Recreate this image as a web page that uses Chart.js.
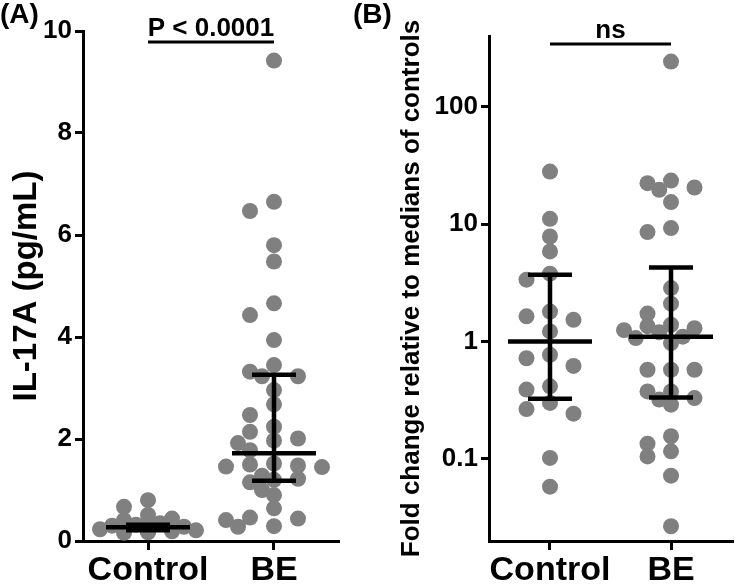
<!DOCTYPE html>
<html>
<head>
<meta charset="utf-8">
<script src="https://cdn.jsdelivr.net/npm/chart.js@4.4.1/dist/chart.umd.min.js"></script>
<style>
  html, body { margin: 0; padding: 0; background: #fff; }
  #wrap { position: relative; width: 740px; height: 586px; }
  canvas { position: absolute; left: 0; top: 0; }
</style>
</head>
<body>
<div id="wrap">
  <canvas id="cA" width="740" height="586"></canvas>
  <canvas id="cB" width="740" height="586"></canvas>
</div>
<script>
// ---------------- DATA ----------------
const categories = ['Control', 'BE'];

// Panel A: IL-17A (pg/mL)
const ctrlIL17A = [0.80, 0.67, 0.51, 0.44, 0.41, 0.35, 0.32, 0.30, 0.28, 0.27, 0.26, 0.25, 0.23, 0.22, 0.21, 0.20, 0.19, 0.18, 0.17, 0.16];
const beIL17A = [9.42, 6.65, 6.47, 5.80, 5.48, 4.66, 4.43, 3.94, 3.45, 3.32, 3.23, 3.23, 2.96, 2.68, 2.47, 2.24, 2.14, 2.01, 1.97, 1.92, 1.78, 1.52, 1.50, 1.48, 1.46, 1.45, 1.28, 1.22, 1.20, 1.15, 1.00, 0.90, 0.64, 0.46, 0.44, 0.41, 0.29, 0.28];
const medianA = [0.27, 1.72];
const q1A = [0.21, 1.18];
const q3A = [0.32, 3.26];
const tickValsA = [0, 2, 4, 6, 8, 10];
const tickLabelsA = ['0', '2', '4', '6', '8', '10'];

// Panel B: fold change relative to medians of controls
const ctrlFold = [28.0, 11.1, 7.84, 5.85, 3.78, 3.36, 1.80, 1.64, 1.53, 1.22, 0.77, 0.72, 0.62, 0.415, 0.39, 0.30, 0.266, 0.243, 0.102, 0.058];
const beFold = [242, 23.5, 22.3, 20.5, 19.6, 15.4, 9.25, 8.55, 2.85, 2.10, 1.73, 1.39, 1.35, 1.30, 1.25, 1.20, 1.10, 1.07, 0.97, 0.575, 0.575, 0.575, 0.376, 0.376, 0.33, 0.32, 0.29, 0.156, 0.135, 0.116, 0.105, 0.072, 0.0267];
const medianB = [1.0, 1.10];
const q1B = [0.326, 0.334];
const q3B = [3.7, 4.27];
const tickValsB = [0.1, 1, 10, 100];
const tickLabelsB = ['0.1', '1', '10', '100'];

// ---------------- STYLE ----------------
const FONT = "'Liberation Sans', Arial, sans-serif";
const POINT_COLOR = '#808080';

const errBars = {
  id: 'errbars',
  afterDatasetsDraw(chart, args, o) {
    const { ctx, scales: { x, y } } = chart;
    ctx.save();
    ctx.strokeStyle = '#000';
    ctx.lineWidth = 4.5;
    ctx.lineCap = 'butt';
    const seg = (a, b, c, d) => { ctx.beginPath(); ctx.moveTo(a, b); ctx.lineTo(c, d); ctx.stroke(); };
    o.medians.forEach((m, i) => {
      const cx = x.getPixelForValue(i + 1);
      const ym = y.getPixelForValue(m);
      const y1 = y.getPixelForValue(o.q1[i]);
      const y3 = y.getPixelForValue(o.q3[i]);
      seg(cx, y1, cx, y3);
      seg(cx - 22, y1, cx + 22, y1);
      seg(cx - 22, y3, cx + 22, y3);
      seg(cx - 42, ym, cx + 42, ym);
    });
    ctx.restore();
  }
};

const annot = {
  id: 'annot',
  afterDraw(chart, args, o) {
    const { ctx, scales: { x }, chartArea } = chart;
    ctx.save();
    const x1 = x.getPixelForValue(1), x2 = x.getPixelForValue(2);
    const ly = chartArea.top + o.lineOffset;
    ctx.strokeStyle = '#000';
    ctx.lineWidth = 3;
    ctx.beginPath(); ctx.moveTo(x1, ly); ctx.lineTo(x2, ly); ctx.stroke();
    ctx.fillStyle = '#000';
    ctx.font = 'bold 26px ' + FONT;
    ctx.textAlign = 'center';
    ctx.textBaseline = 'alphabetic';
    ctx.fillText(o.text, (x1 + x2) / 2, ly - 6);
    ctx.textAlign = 'left';
    ctx.font = 'bold 28px ' + FONT;
    ctx.fillText(o.panel, o.panelX, 23);
    ctx.restore();
  }
};

function swarm(values, xs, ys, center, step, minDist) {
  const cx = xs.getPixelForValue(center);
  const order = values.map((v, i) => i).sort((a, b) => values[b] - values[a]);
  const placed = [];
  const out = new Array(values.length).fill(center);
  const cands = [0, -2, 2, -1, 1, -3, 3, -4, 4];
  for (const i of order) {
    const py = ys.getPixelForValue(values[i]);
    let chosen = null;
    for (const c of cands) {
      const px = cx + c * step;
      if (placed.every(p => Math.hypot(p[0] - px, p[1] - py) >= minDist)) { chosen = px; break; }
    }
    if (chosen === null) chosen = cx;
    placed.push([chosen, py]);
    out[i] = xs.getValueForPixel(chosen);
  }
  return out;
}

function makeChart(id, cfg) {
  const mk = (vals, c) => vals.map(v => ({ x: c, y: v }));
  const chart = new Chart(document.getElementById(id), {
    type: 'scatter',
    data: {
      datasets: [
        { data: mk(cfg.ctrl, 1), backgroundColor: POINT_COLOR, borderWidth: 0, pointRadius: 8, pointHoverRadius: 8 },
        { data: mk(cfg.be, 2), backgroundColor: POINT_COLOR, borderWidth: 0, pointRadius: 8, pointHoverRadius: 8 }
      ]
    },
    options: {
      responsive: false,
      animation: false,
      devicePixelRatio: 1,
      events: [],
      clip: false,
      layout: { padding: cfg.padding },
      plugins: {
        legend: { display: false },
        tooltip: { enabled: false },
        errbars: { medians: cfg.medians, q1: cfg.q1, q3: cfg.q3 },
        annot: cfg.annot
      },
      scales: {
        x: {
          type: 'linear',
          min: cfg.xmin, max: cfg.xmax,
          afterFit: s => { s.height = 45; },
          afterBuildTicks: s => { s.ticks = categories.map((c, i) => ({ value: i + 1 })); },
          ticks: {
            autoSkip: false, maxRotation: 0, padding: 0,
            color: '#000',
            font: { family: FONT, size: 34, weight: 'bold' },
            callback: v => categories[Math.round(v) - 1]
          },
          grid: { display: true, drawOnChartArea: false, drawTicks: true, tickLength: 9, color: '#000', lineWidth: 3 },
          border: { display: true, color: '#000', width: 3 }
        },
        y: {
          type: cfg.ytype,
          min: cfg.ymin, max: cfg.ymax,
          afterFit: s => { s.width = cfg.yWidth; },
          afterBuildTicks: s => { s.ticks = cfg.tickVals.map(v => ({ value: v })); },
          ticks: {
            autoSkip: false, padding: 3,
            color: '#000',
            font: { family: FONT, size: 26, weight: 'bold' },
            callback: v => cfg.tickLabels[cfg.tickVals.indexOf(v)]
          },
          title: {
            display: true, text: cfg.ytitle, color: '#000',
            font: { family: FONT, size: cfg.ytitleSize, weight: 'bold' },
            padding: { top: cfg.ytitlePad, bottom: 0 }
          },
          grid: { display: true, drawOnChartArea: false, drawTicks: true, tickLength: 8, color: '#000', lineWidth: 3 },
          border: { display: true, color: '#000', width: 3 }
        }
      }
    },
    plugins: [errBars, annot]
  });
  const xs = chart.scales.x, ys = chart.scales.y;
  const cx = swarm(cfg.ctrl, xs, ys, 1, cfg.step, 12.5);
  const bx = swarm(cfg.be, xs, ys, 2, cfg.step, 12.5);
  chart.data.datasets[0].data.forEach((p, i) => { p.x = cx[i]; });
  chart.data.datasets[1].data.forEach((p, i) => { p.x = bx[i]; });
  chart.update('none');
  return chart;
}

makeChart('cA', {
  ctrl: ctrlIL17A, be: beIL17A,
  medians: medianA, q1: q1A, q3: q3A,
  padding: { left: 0, top: 31, right: 402, bottom: 0 },
  yWidth: 83, xmin: 0.484, xmax: 2.508,
  ytype: 'linear', ymin: 0, ymax: 10,
  tickVals: tickValsA, tickLabels: tickLabelsA,
  ytitle: 'IL-17A (pg/mL)', ytitleSize: 33, ytitlePad: 7,
  step: 12,
  annot: { text: 'P < 0.0001', lineOffset: 11, panel: '(A)', panelX: 0 }
});

makeChart('cB', {
  ctrl: ctrlFold, be: beFold,
  medians: medianB, q1: q1B, q3: q3B,
  padding: { left: 370, top: 36, right: 0, bottom: 0 },
  yWidth: 119, xmin: 0.496, xmax: 2.504,
  ytype: 'logarithmic', ymin: 0.02, ymax: 400,
  tickVals: tickValsB, tickLabels: tickLabelsB,
  ytitle: 'Fold change relative to medians of controls', ytitleSize: 26, ytitlePad: 26,
  step: 11.75,
  annot: { text: 'ns', lineOffset: 8, panel: '(B)', panelX: 353 }
});
</script>
</body>
</html>
